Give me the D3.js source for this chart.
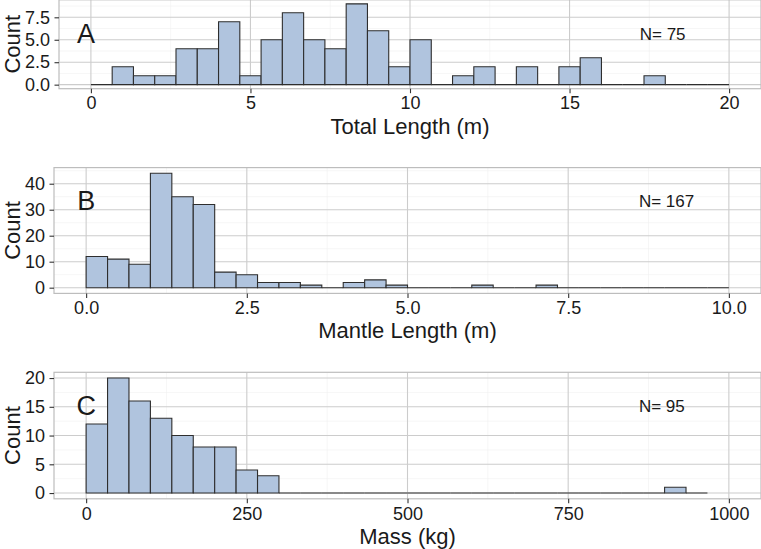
<!DOCTYPE html>
<html>
<head>
<meta charset="utf-8">
<script src="https://cdn.jsdelivr.net/npm/d3@7"></script>
<style>
    body { margin: 0; background: #fff; }
    text { font-family: "Liberation Sans", Arial, Helvetica, sans-serif; fill: #1a1a1a; }
</style>
</head>
<body>
<svg id="chart" width="761" height="549"></svg>
<script>
// histogram counts, one value per bin
const totalLengthCounts = [0, 2, 1, 1, 4, 4, 7, 1, 5, 8, 5, 4, 9, 6, 2, 5, 0, 1, 2, 0, 2, 0, 2, 3, 0, 0, 1, 0, 0, 0];
const mantleLengthCounts = [12, 11, 9, 44, 35, 32, 6, 5, 2, 2, 1, 0, 2, 3, 1, 0, 0, 0, 1, 0, 0, 1, 0, 0, 0, 0, 0, 0, 0, 0];
const massCounts = [12, 20, 16, 13, 10, 8, 8, 4, 3, 0, 0, 0, 0, 0, 0, 0, 0, 0, 0, 0, 0, 0, 0, 0, 0, 0, 0, 1, 0];

// bin widths (bins start at 0)
const binWidths = [20 / 30, 10 / 30, 1000 / 30];

// axis limits and ticks
const xMax = [20, 10, 1000];
const xTicks = [[0, 5, 10, 15, 20], [0, 2.5, 5, 7.5, 10], [0, 250, 500, 750, 1000]];
const xTickFormat = ["d", ".1f", "d"];
const yTicks = [[0, 2.5, 5, 7.5], [0, 10, 20, 30, 40], [0, 5, 10, 15, 20]];
const yTickFormat = [".1f", "d", "d"];

// texts
const panelLetters = ["A", "B", "C"];
const sampleSizes = [75, 167, 95];
const xTitles = ["Total Length (m)", "Mantle Length (m)", "Mass (kg)"];
const letterY = [5.6, 33.2, 15.1];

const allCounts = [totalLengthCounts, mantleLengthCounts, massCounts];

// panel boxes (pixels)
const boxes = [
    { left: 59, right: 761, top: -0.2, bottom: 88.7 },
    { left: 54, right: 761, top: 167.6, bottom: 293.4 },
    { left: 54, right: 761, top: 372.3, bottom: 498.8 }
];

const svg = d3.select("#chart");

boxes.forEach((b, i) => {
    const counts = allCounts[i];
    const yMax = d3.max(counts);
    const x = d3.scaleLinear().domain([-0.05 * xMax[i], 1.05 * xMax[i]]).range([b.left, b.right]);
    const y = d3.scaleLinear().domain([-0.05 * yMax, 1.05 * yMax]).range([b.bottom, b.top]);

    const g = svg.append("g");

    // minor grid
    const xStep = xTicks[i][1] - xTicks[i][0];
    const yStep = yTicks[i][1] - yTicks[i][0];
    const xMinor = d3.range(xTicks[i][0] - xStep / 2, 1.05 * xMax[i], xStep).filter(v => v > x.domain()[0]);
    const yMinor = d3.range(yTicks[i][0] - yStep / 2, 1.05 * yMax + yStep, yStep).filter(v => v > y.domain()[0] && v < y.domain()[1]);
    g.selectAll(".xminor").data(xMinor).join("line")
        .attr("x1", d => x(d)).attr("x2", d => x(d)).attr("y1", b.top).attr("y2", b.bottom)
        .attr("stroke", "#f0f0f0").attr("stroke-width", 0.6);
    g.selectAll(".yminor").data(yMinor).join("line")
        .attr("x1", b.left).attr("x2", b.right).attr("y1", d => y(d)).attr("y2", d => y(d))
        .attr("stroke", "#f0f0f0").attr("stroke-width", 0.6);

    // major grid
    g.selectAll(".xmajor").data(xTicks[i]).join("line")
        .attr("x1", d => x(d)).attr("x2", d => x(d)).attr("y1", b.top).attr("y2", b.bottom)
        .attr("stroke", "#cccccc").attr("stroke-width", 1.1);
    g.selectAll(".ymajor").data(yTicks[i]).join("line")
        .attr("x1", b.left).attr("x2", b.right).attr("y1", d => y(d)).attr("y2", d => y(d))
        .attr("stroke", "#cccccc").attr("stroke-width", 1.1);

    // bars (paths so that empty bins still show their outline)
    const w = binWidths[i];
    g.selectAll(".bar").data(counts).join("path")
        .attr("d", (d, k) => {
            const x0 = x(k * w), x1 = x((k + 1) * w), y0 = y(0), y1 = y(d);
            return `M${x0},${y0}H${x1}V${y1}H${x0}Z`;
        })
        .attr("fill", "#b0c4de")
        .attr("stroke", "#2e2e2e")
        .attr("stroke-width", 1.1);

    // panel border
    g.append("rect")
        .attr("x", b.left).attr("y", b.top)
        .attr("width", b.right - b.left).attr("height", b.bottom - b.top)
        .attr("fill", "none").attr("stroke", "#bdbdbd").attr("stroke-width", 1.2);

    // axes
    const xAxis = d3.axisBottom(x).tickValues(xTicks[i]).tickFormat(d3.format(xTickFormat[i]))
        .tickSize(4.5).tickPadding(3.5);
    const yAxis = d3.axisLeft(y).tickValues(yTicks[i]).tickFormat(d3.format(yTickFormat[i]))
        .tickSize(4.5).tickPadding(4.5);

    const gx = g.append("g").attr("transform", `translate(0,${b.bottom})`).call(xAxis);
    const gy = g.append("g").attr("transform", `translate(${b.left},0)`).call(yAxis);
    [gx, gy].forEach(a => {
        a.select(".domain").remove();
        a.selectAll(".tick line").attr("stroke", "#333").attr("stroke-width", 1.1);
        a.selectAll(".tick text").attr("fill", "#1a1a1a")
            .style("font-family", "'Liberation Sans', Arial, sans-serif").style("font-size", "18px");
    });

    // axis titles
    g.append("text")
        .attr("x", (b.left + b.right) / 2).attr("y", b.bottom + 45)
        .attr("text-anchor", "middle").style("font-size", "22px")
        .text(xTitles[i]);
    g.append("text")
        .attr("transform", `translate(20,${(b.top + b.bottom) / 2}) rotate(-90)`)
        .attr("text-anchor", "middle").style("font-size", "22px")
        .text("Count");

    // panel letter and N
    g.append("text")
        .attr("x", x(i === 0 ? -0.15 : 0)).attr("y", y(letterY[i]))
        .attr("text-anchor", "middle").attr("dominant-baseline", "central")
        .style("font-size", "27px")
        .text(panelLetters[i]);
    g.append("text")
        .attr("x", x(0.86 * xMax[i])).attr("y", y(letterY[i]))
        .attr("dominant-baseline", "central")
        .style("font-size", "17px")
        .text("N= " + sampleSizes[i]);
});
</script>
</body>
</html>
